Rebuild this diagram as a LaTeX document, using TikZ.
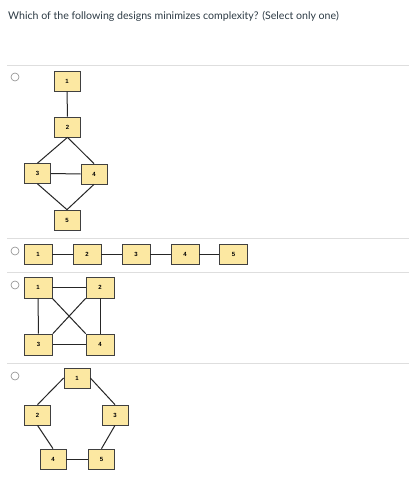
\documentclass[tikz,border=0pt]{standalone}
\usepackage{fontspec}
\setmainfont{Lato}
\newfontfamily\boxfont{Liberation Sans}
\begin{document}
\begin{tikzpicture}[x=1pt,y=-1pt,
  nbox/.style={draw=black!75,line width=0.7pt,fill=boxyellow,minimum width=26pt,minimum height=20pt,inner sep=0pt,font=\boxfont\bfseries\fontsize{6}{7}\selectfont},
  wbox/.style={nbox,minimum width=28pt},
  link/.style={draw=black!85,line width=1pt},
  rule/.style={draw=black!13,line width=0.8pt},
  radio/.style={draw=black!45,line width=0.6pt,fill=white,circle,minimum size=8pt,inner sep=0pt}]
\definecolor{boxyellow}{HTML}{FCE8A2}
\definecolor{titlecol}{HTML}{2D3B45}
\useasboundingbox (0,0) rectangle (409,487);
\fill[white] (0,0) rectangle (409,487);
\node[anchor=base west,inner sep=0pt,text=titlecol,font=\fontsize{10.6}{12}\selectfont] (title) at (8,19.5) {Which of the following designs minimizes complexity? (Select only one)};
% rules
\coordinate (r1a) at (7,65); \coordinate (r1b) at (409,65);
\coordinate (r2a) at (7,238); \coordinate (r2b) at (409,238);
\coordinate (r3a) at (7,272); \coordinate (r3b) at (409,272);
\coordinate (r4a) at (7,363); \coordinate (r4b) at (409,363);
\draw[rule] (r1a) -- (r1b);
\draw[rule] (r2a) -- (r2b);
\draw[rule] (r3a) -- (r3b);
\draw[rule] (r4a) -- (r4b);
% radios
\node[radio] (o1) at (15,77) {};
\node[radio] (o2) at (15,251) {};
\node[radio] (o3) at (15,285) {};
\node[radio] (o4) at (15,376) {};
% option A
\node[nbox] (a1) at (67,81) {1};
\node[nbox] (a2) at (67.5,127) {2};
\node[nbox] (a3) at (37.5,173.5) {3};
\node[nbox] (a4) at (94,174) {4};
\node[nbox] (a5) at (67,220) {5};
\draw[link] (a1.south) -- (a2.north);
\draw[link] (a2.south) -- (a3.north);
\draw[link] (a2.south) -- (a4.north);
\draw[link] (a3.east) -- (a4.west);
\draw[link] (a3.south) -- (a5.north);
\draw[link] (a4.south) -- (a5.north);
% option B
\node[wbox] (b1) at (38,254) {1};
\node[wbox] (b2) at (87,254) {2};
\node[wbox] (b3) at (136,254) {3};
\node[wbox] (b4) at (185,254) {4};
\node[wbox] (b5) at (233.5,254) {5};
\draw[link] (b1) -- (b2);
\draw[link] (b2) -- (b3);
\draw[link] (b3) -- (b4);
\draw[link] (b4) -- (b5);
% option C
\node[wbox,minimum height=21pt] (c1) at (38,287.5) {1};
\node[wbox,minimum height=21pt] (c2) at (100,287.5) {2};
\node[wbox,minimum height=21pt] (c3) at (38.5,344.5) {3};
\node[wbox,minimum height=21pt] (c4) at (100,344.5) {4};
\draw[link] (c1) -- (c2);
\draw[link] (c1) -- (c3);
\draw[link] (c2) -- (c4);
\draw[link] (c3) -- (c4);
\draw[link] (c1.south east) -- (c4.north west);
\draw[link] (c2.south west) -- (c3.north east);
% option D
\node[nbox] (d1) at (77,378) {1};
\node[nbox] (d2) at (37.5,415) {2};
\node[nbox] (d3) at (115,415) {3};
\node[nbox] (d4) at (53,459) {4};
\node[nbox] (d5) at (101.5,459) {5};
\draw[link] (d1.west) -- (d2.north);
\draw[link] (d1.east) -- (d3.north);
\draw[link] (d2.south) -- (d4.north);
\draw[link] (d3.south) -- (d5.north);
\draw[link] (d4.east) -- (d5.west);
\end{tikzpicture}
\end{document}
